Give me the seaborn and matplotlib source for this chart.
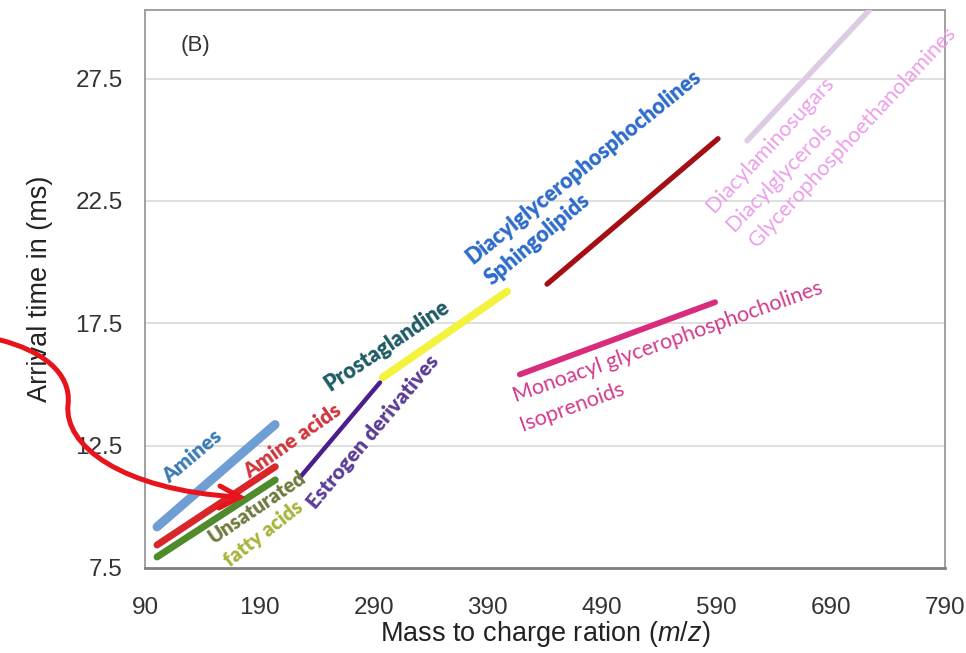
import matplotlib
matplotlib.use("Agg")
import matplotlib.pyplot as plt
from matplotlib.path import Path
from matplotlib.patches import PathPatch
from matplotlib.lines import Line2D
import seaborn as sns
import pandas as pd

# ---- data ----
classes = ["Amines", "Amine acids", "Unsaturated fatty acids", "Estrogen derivatives",
           "Prostaglandine/Sphingolipids", "Diacylglycerophosphocholines",
           "Monoacyl glycerophosphocholines", "Diacylaminosugars/Glycerols"]
x_start = [100.5, 100.5, 100.5, 225.6, 298.0, 441.8, 418.0, 616.8]
x_end   = [203.8, 204.0, 204.0, 295.6, 406.8, 591.4, 588.8, 724.0]
y_start = [9.18, 8.44, 7.95, 11.20, 15.29, 19.10, 15.41, 24.96]
y_end   = [13.36, 11.64, 11.10, 15.08, 18.80, 25.04, 18.36, 30.30]
line_colors = ["#6E9ED4", "#D8262B", "#4F8A2C", "#4B1E8C",
               "#F3F23C", "#A50F14", "#D92C7E", "#DCCBE2"]
line_widths = [6.5, 5.0, 5.0, 3.2, 5.5, 3.8, 4.2, 4.0]

label_texts = ["Amines", "Amine acids", "Unsaturated", "fatty acids", "Estrogen derivatives",
               "Prostaglandine", "Diacylglycerophosphocholines", "Sphingolipids",
               "Monoacyl glycerophosphocholines", "Isoprenoids", "Diacylaminosugars",
               "Diacylglycerols", "Glycerophosphoethanolamines"]
label_x = [131.1, 218.6, 188.0, 193.3, 289.5, 301.8, 474.1, 433.9, 547.6, 463.6, 636.9, 644.8, 709.5]
label_y = [12.05, 12.70, 10.00, 8.90, 13.07, 16.60, 23.90, 20.94, 16.72, 14.10, 24.80, 23.50, 25.10]
label_rot = [40, 35, 34, 38, 50, 34, 39, 40, 19.5, 20, 47, 46, 47]
label_colors = ["#3A7BB4", "#D0353C", "#6F7A3C", "#A9B43C", "#5A3C98", "#1F5C66",
                "#2D6CCC", "#2D6CCC", "#D33A8C", "#D33A8C", "#EC9EEA", "#EC9EEA", "#EC9EEA"]
label_weights = ["heavy", "heavy", "heavy", "heavy", "heavy", "heavy", "heavy", "heavy",
                 "normal", "normal", "normal", "normal", "normal"]
label_sizes = [15, 15, 14.5, 14.5, 15, 15.5, 15.5, 15.5, 15.5, 15.5, 15.5, 15.5, 15.5]

x_ticks = [90, 190, 290, 390, 490, 590, 690, 790]
y_ticks = [7.5, 12.5, 17.5, 22.5, 27.5]

rows = []
for c, xs, xe, ys, ye in zip(classes, x_start, x_end, y_start, y_end):
    rows.append({"cls": c, "mz": xs, "t": ys})
    rows.append({"cls": c, "mz": xe, "t": ye})
df = pd.DataFrame(rows)

sns.set_theme(style="white")
plt.rcParams["font.family"] = ["Liberation Sans", "DejaVu Sans"]
plt.rcParams["mathtext.fontset"] = "custom"
plt.rcParams["mathtext.it"] = "Liberation Sans:italic"
plt.rcParams["mathtext.rm"] = "Liberation Sans"

fig = plt.figure(figsize=(9.66, 6.53), dpi=100)
ax = fig.add_axes([145 / 966, 85 / 653, 800 / 966, 558 / 653])

for yv in y_ticks[1:]:
    ax.axhline(yv, color="#D9D9D9", lw=1.2, zorder=0)

for c, col, lw in zip(classes, line_colors, line_widths):
    sns.lineplot(data=df[df["cls"] == c], x="mz", y="t", color=col, lw=lw,
                 ax=ax, legend=False, solid_capstyle="round", zorder=3)

ax.set_xlim(90, 790)
ax.set_ylim(7.5, 30.3)
ax.set_xticks(x_ticks)
ax.set_yticks(y_ticks)
ax.set_xticklabels([str(v) for v in x_ticks])
ax.set_yticklabels([f"{v:.1f}" for v in y_ticks])
ax.tick_params(axis="both", labelsize=17.5, colors="#333333", length=4, width=1,
               direction="out")
ax.tick_params(axis="y", pad=12)
ax.tick_params(axis="x", pad=17)
for s in ax.spines.values():
    s.set_color("#9A9A9A")
    s.set_linewidth(1.3)
ax.spines["bottom"].set_color("#7F7F7F")
ax.spines["bottom"].set_linewidth(2)

ax.set_xlabel("Mass to charge ration ($\\it{m/z}$)", fontsize=19.5, color="#222222", labelpad=0)
ax.set_ylabel("Arrival time in (ms)", fontsize=19.5, color="#222222", labelpad=16)

ax.text(0.0625, 0.937, "(B)", transform=ax.transAxes, fontsize=16, color="#333333",
        ha="center", va="center")

for t, lx, ly, r, col, w, fs in zip(label_texts, label_x, label_y, label_rot,
                                    label_colors, label_weights, label_sizes):
    ax.text(lx, ly, t, rotation=r, rotation_mode="anchor", ha="center", va="center",
            color=col, fontsize=fs, fontweight=w,
            family=["Lato", "DejaVu Sans"], clip_on=False, zorder=4)

# red hand-drawn arrow overlay (figure pixel coordinates -> fraction)
W, H = 966.0, 653.0
def fp(p):
    return (p[0] / W, 1 - p[1] / H)

pts = [(0, 340), (40, 350), (72, 372), (68, 405), (64, 445), (120, 490), (238, 497)]
codes = [Path.MOVETO, Path.CURVE4, Path.CURVE4, Path.CURVE4, Path.CURVE4, Path.CURVE4, Path.CURVE4]
curve = PathPatch(Path([fp(p) for p in pts], codes), fill=False, edgecolor="#E8141B",
                  lw=3.6, capstyle="round", transform=fig.transFigure, zorder=10)
fig.patches.append(curve)
head = [(220, 486), (240, 497), (219, 508)]
hx, hy = zip(*[fp(p) for p in head])
fig.lines.append(Line2D(hx, hy, color="#E8141B", lw=3.6, solid_capstyle="round",
                        solid_joinstyle="miter", transform=fig.transFigure, zorder=11))

fig.savefig("out.png", dpi=100)
